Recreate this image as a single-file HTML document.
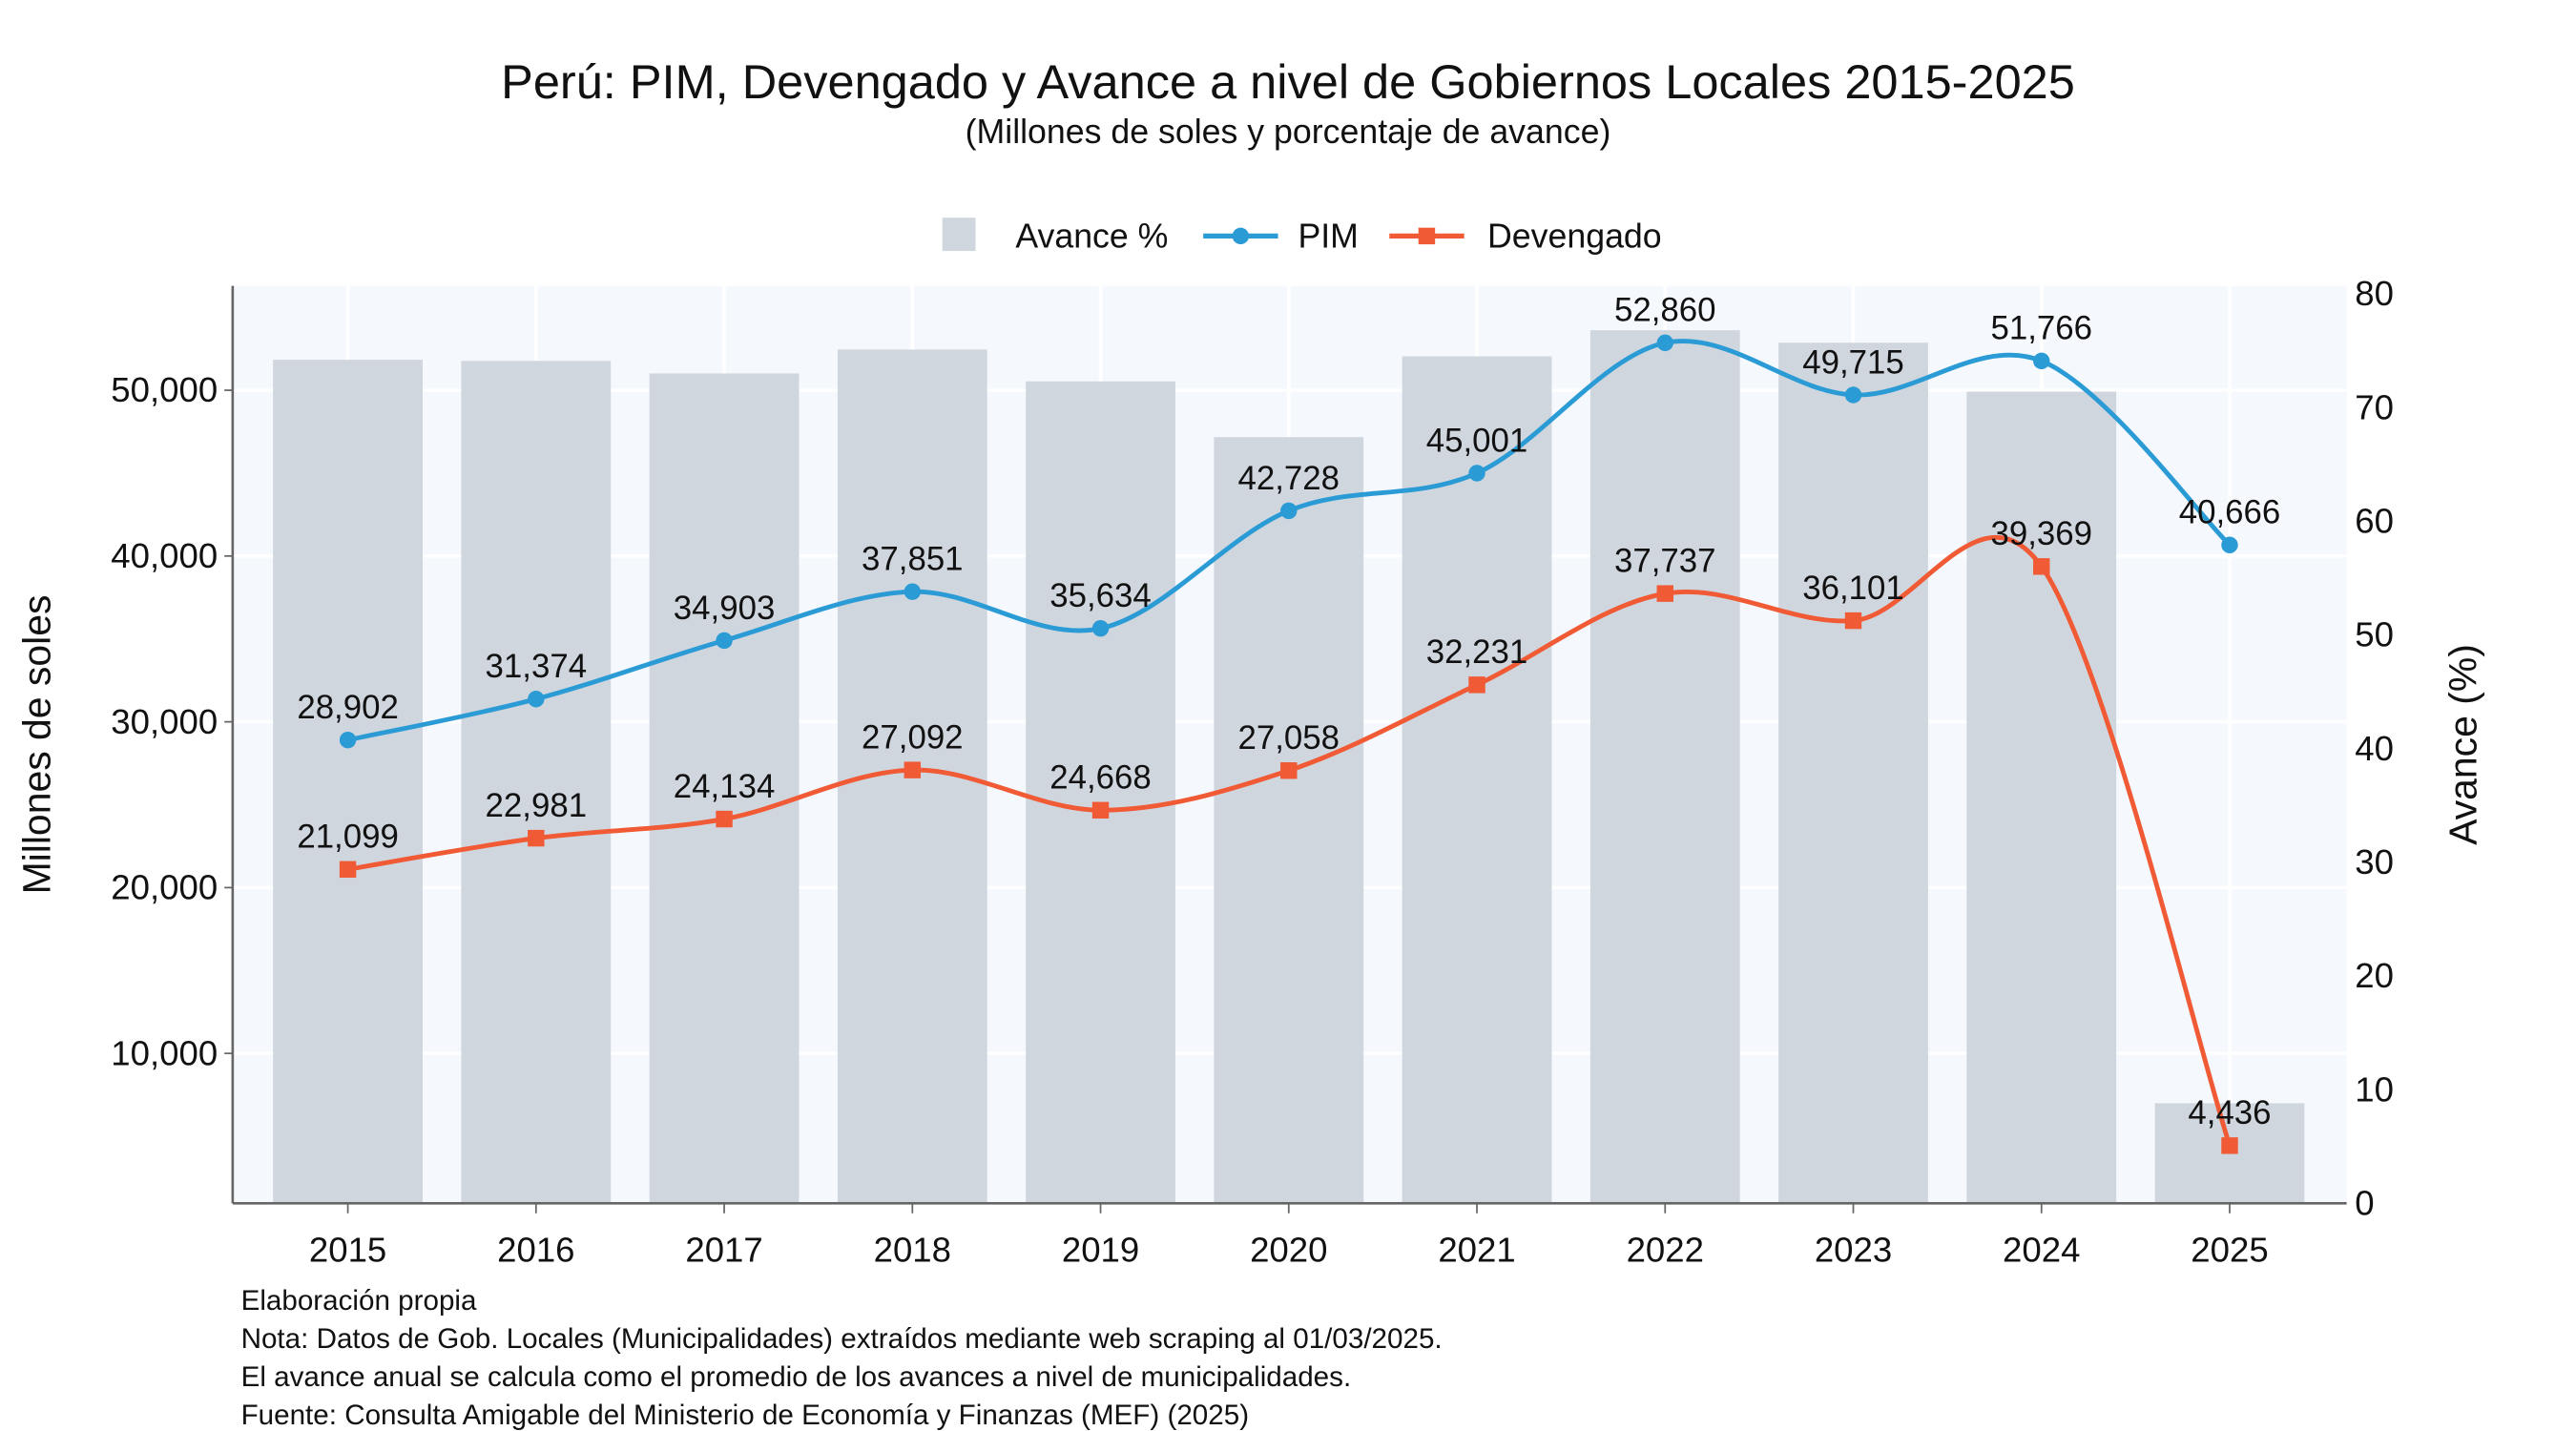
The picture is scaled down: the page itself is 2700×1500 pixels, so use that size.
<!DOCTYPE html>
<html><head><meta charset="utf-8"><style>
html,body{margin:0;padding:0;background:#fff}
svg{display:block;font-family:"Liberation Sans",sans-serif}
</style></head><body>
<svg id="chart" width="2700" height="1500" viewBox="0 0 1550 861" preserveAspectRatio="none" xmlns="http://www.w3.org/2000/svg">
<text x="775" y="59" font-size="29" text-anchor="middle" fill="#111">Perú: PIM, Devengado y Avance a nivel de Gobiernos Locales 2015-2025</text>
<text x="775" y="86" font-size="20.5" text-anchor="middle" fill="#111">(Millones de soles y porcentaje de avance)</text>
<g>
<rect x="567" y="131" width="20" height="20" fill="#d0d6de"/>
<text x="611" y="149" font-size="20.5" fill="#111">Avance %</text>
<line x1="724" y1="142" x2="769" y2="142" stroke="#2b9bd6" stroke-width="3"/>
<circle cx="746.5" cy="142" r="5" fill="#2b9bd6"/>
<text x="781" y="149" font-size="20.5" fill="#111">PIM</text>
<line x1="836" y1="142" x2="881" y2="142" stroke="#f05a35" stroke-width="3"/>
<rect x="853.5" y="137" width="10" height="10" fill="#f05a35"/>
<text x="895" y="149" font-size="20.5" fill="#111">Devengado</text>
</g>
<rect x="140" y="172" width="1272" height="552" fill="#f5f8fd"/>
<g id="grid"></g>
<g id="bars"></g>
<g id="lines"></g>
<g id="axes"></g>
<text transform="translate(30,448) rotate(-90)" font-size="23.5" text-anchor="middle" fill="#111">Millones de soles</text>
<text transform="translate(1490,448) rotate(-90)" font-size="23.5" text-anchor="middle" fill="#111">Avance (%)</text>
<g font-size="17" fill="#111">
<text x="145" y="788">Elaboración propia</text>
<text x="145" y="811">Nota: Datos de Gob. Locales (Municipalidades) extraídos mediante web scraping al 01/03/2025.</text>
<text x="145" y="834">El avance anual se calcula como el promedio de los avances a nivel de municipalidades.</text>
<text x="145" y="857">Fuente: Consulta Amigable del Ministerio de Economía y Finanzas (MEF) (2025)</text>
</g>
</svg>
<script>
const years = [2015,2016,2017,2018,2019,2020,2021,2022,2023,2024,2025];
const avance = [74.2,74.1,73.0,75.1,72.3,67.4,74.5,76.8,75.7,71.4,8.8];
const pim = [28902,31374,34903,37851,35634,42728,45001,52860,49715,51766,40666];
const devengado = [21099,22981,24134,27092,24668,27058,32231,37737,36101,39369,4436];
const leftTicks = [10000,20000,30000,40000,50000];
const rightTicks = [0,10,20,30,40,50,60,70,80];

const NS="http://www.w3.org/2000/svg";
const L=140,R=1412,T=172,B=724;
const x=i=>209.3+i*113.23;
const yL=v=>733.55-v*0.009975;
const yR=v=>724-v*6.84;
function mk(tag,attrs,parent){const e=document.createElementNS(NS,tag);for(const k in attrs)e.setAttribute(k,attrs[k]);parent.appendChild(e);return e;}
const grid=document.getElementById('grid'),bars=document.getElementById('bars'),lines=document.getElementById('lines'),axes=document.getElementById('axes');
leftTicks.forEach(t=>{const g=mk('line',{x1:L,x2:R,y1:yL(t),y2:yL(t),stroke:'#fff','stroke-width':2},grid);

});
years.forEach((yv,i)=>{const g=mk('line',{x1:x(i),x2:x(i),y1:T,y2:B,stroke:'#fff','stroke-width':2},grid);

});
avance.forEach((v,i)=>{const r=mk('rect',{x:x(i)-45,y:yR(v),width:90,height:B-yR(v),fill:'#d0d6de'},bars);

});
function smooth(pts){let d=`M${pts[0][0]},${pts[0][1]}`;for(let i=0;i<pts.length-1;i++){const p0=pts[i-1]||pts[i],p1=pts[i],p2=pts[i+1],p3=pts[i+2]||p2;
d+=` C${p1[0]+(p2[0]-p0[0])/6},${p1[1]+(p2[1]-p0[1])/6} ${p2[0]-(p3[0]-p1[0])/6},${p2[1]-(p3[1]-p1[1])/6} ${p2[0]},${p2[1]}`;}return d;}
function series(vals,color,name,square){
const pts=vals.map((v,i)=>[x(i),yL(v)]);
const p=mk('path',{d:smooth(pts),fill:'none',stroke:color,'stroke-width':2.8},lines);


vals.forEach((v,i)=>{let m;
if(square)m=mk('rect',{x:pts[i][0]-5,y:pts[i][1]-5,width:10,height:10,fill:color},lines);
else m=mk('circle',{cx:pts[i][0],cy:pts[i][1],r:5,fill:color},lines);


const t=mk('text',{x:pts[i][0],y:pts[i][1]-13,'font-size':20,'text-anchor':'middle',fill:'#111'},lines);
t.textContent=v.toLocaleString('en-US');

});}
series(pim,'#2b9bd6','pim',false);
series(devengado,'#f05a35','devengado',true);
const ax=(a)=>mk('line',a,axes);
let e=ax({x1:L,x2:L,y1:T,y2:B,stroke:'#666','stroke-width':1.5});


e=ax({x1:L,x2:R,y1:B,y2:B,stroke:'#666','stroke-width':1.5});


leftTicks.forEach(t=>{ax({x1:L-5,x2:L,y1:yL(t),y2:yL(t),stroke:'#666'});
const tx=mk('text',{x:L-9,y:yL(t)+7,'font-size':21,'text-anchor':'end',fill:'#111'},axes);tx.textContent=t.toLocaleString('en-US');

});
rightTicks.forEach(t=>{
const tx=mk('text',{x:R+5,y:yR(t)+7,'font-size':21,fill:'#111'},axes);tx.textContent=t;

});
years.forEach((yv,i)=>{ax({x1:x(i),x2:x(i),y1:B,y2:B+6,stroke:'#666'});
const tx=mk('text',{x:x(i),y:B+35,'font-size':21,'text-anchor':'middle',fill:'#111'},axes);tx.textContent=yv;

});
</script>
</body></html>
